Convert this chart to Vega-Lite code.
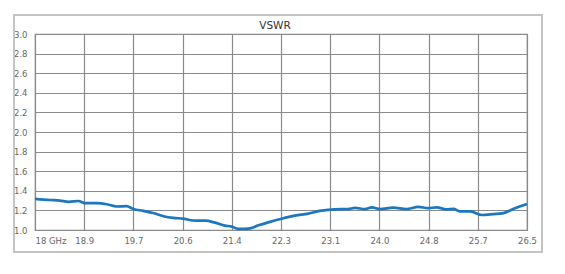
{
  "$schema": "https://vega.github.io/schema/vega-lite/v6.json",
  "autosize": "none",
  "width": 492,
  "height": 196,
  "padding": {"left": 35, "top": 34, "right": 38, "bottom": 44},
  "background": "white",
  "title": {"text": "VSWR", "fontSize": 10.5, "font": "DejaVu Sans", "fontWeight": "normal", "color": "#333333", "anchor": "middle", "offset": -17, "dx": -6},
  "config": {
    "view": {"stroke": "#8a8a8a", "strokeWidth": 1.2},
    "axis": {"labelFont": "DejaVu Sans", "labelFontSize": 8.5, "labelColor": "#666666", "gridColor": "#8a8a8a", "gridWidth": 1.2, "gridOpacity": 1, "ticks": false, "domain": false, "title": null}
  },
  "data": {"values": [
    {"f": 18.0, "v": 1.318},
    {"f": 18.26, "v": 1.306},
    {"f": 18.43, "v": 1.300},
    {"f": 18.58, "v": 1.287},
    {"f": 18.75, "v": 1.296},
    {"f": 18.86, "v": 1.274},
    {"f": 19.07, "v": 1.274},
    {"f": 19.24, "v": 1.263},
    {"f": 19.41, "v": 1.240},
    {"f": 19.58, "v": 1.243},
    {"f": 19.70, "v": 1.215},
    {"f": 19.87, "v": 1.195},
    {"f": 20.04, "v": 1.173},
    {"f": 20.22, "v": 1.140},
    {"f": 20.39, "v": 1.123},
    {"f": 20.56, "v": 1.116},
    {"f": 20.73, "v": 1.097},
    {"f": 20.85, "v": 1.095},
    {"f": 20.94, "v": 1.095},
    {"f": 21.11, "v": 1.075},
    {"f": 21.28, "v": 1.045},
    {"f": 21.40, "v": 1.035},
    {"f": 21.51, "v": 1.012},
    {"f": 21.69, "v": 1.014},
    {"f": 21.86, "v": 1.048},
    {"f": 22.03, "v": 1.078},
    {"f": 22.26, "v": 1.115},
    {"f": 22.49, "v": 1.146},
    {"f": 22.72, "v": 1.167},
    {"f": 22.95, "v": 1.197},
    {"f": 23.18, "v": 1.211},
    {"f": 23.41, "v": 1.214},
    {"f": 23.53, "v": 1.225},
    {"f": 23.70, "v": 1.214},
    {"f": 23.82, "v": 1.231},
    {"f": 23.96, "v": 1.214},
    {"f": 24.19, "v": 1.228},
    {"f": 24.42, "v": 1.214},
    {"f": 24.62, "v": 1.235},
    {"f": 24.79, "v": 1.224},
    {"f": 24.94, "v": 1.230},
    {"f": 25.11, "v": 1.211},
    {"f": 25.23, "v": 1.216},
    {"f": 25.34, "v": 1.190},
    {"f": 25.52, "v": 1.190},
    {"f": 25.72, "v": 1.153},
    {"f": 25.92, "v": 1.162},
    {"f": 26.09, "v": 1.172},
    {"f": 26.26, "v": 1.214},
    {"f": 26.5, "v": 1.265}
  ]},
  "layer": [
    {
      "mark": {"type": "line", "color": "#1b77c0", "strokeWidth": 2.7, "interpolate": "monotone"},
      "encoding": {
        "x": {"field": "f", "type": "quantitative",
          "scale": {"domain": [18, 26.5], "nice": false, "zero": false},
          "axis": {"values": [18, 18.85, 19.7, 20.55, 21.4, 22.25, 23.1, 23.95, 24.8, 25.65, 26.5], "tickCount": 11, "labelExpr": "datum.value == 18 ? '18 GHz' : format(datum.value + 0.001, '.1f')", "labelAlign": {"condition": {"test": "datum.value == 18", "value": "left"}, "value": "center"}, "labelPadding": 6, "labelFlush": false, "labelOverlap": false}},
        "y": {"field": "v", "type": "quantitative",
          "scale": {"domain": [1, 3], "nice": false, "zero": false},
          "axis": {"values": [1, 1.2, 1.4, 1.6, 1.8, 2.0, 2.2, 2.4, 2.6, 2.8, 3.0], "tickCount": 11, "format": ".1f", "labelPadding": 8, "labelFlush": false, "labelOverlap": false}}
      }
    },
    {
      "mark": {"type": "rect", "fill": null, "stroke": "#c4c4c4", "strokeWidth": 1.5, "clip": false},
      "encoding": {
        "x": {"datum": 17.637, "type": "quantitative", "scale": {"domain": [18, 26.5], "nice": false, "zero": false}},
        "x2": {"datum": 26.76},
        "y": {"datum": 3.194, "type": "quantitative", "scale": {"domain": [1, 3], "nice": false, "zero": false}},
        "y2": {"datum": 0.776}
      }
    }
  ]
}
